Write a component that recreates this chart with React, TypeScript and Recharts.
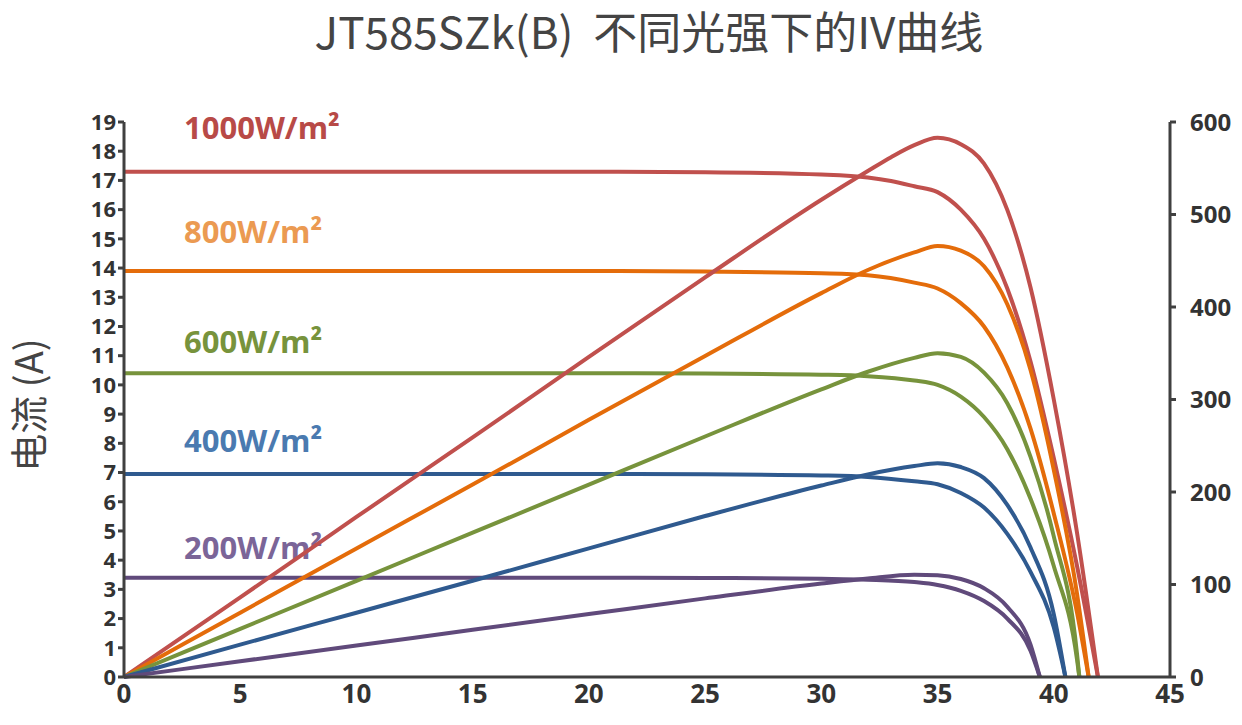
import { LineChart, Line, XAxis, YAxis, ResponsiveContainer } from "recharts";

// voltage points (V) and current (A) per irradiance
const v1000 = [0, 5, 10, 15, 20, 25, 30, 32, 33, 34, 35, 36, 37, 38, 39, 40, 41, 41.9];
const i1000 = [17.3, 17.3, 17.3, 17.3, 17.3, 17.28, 17.2, 17.1, 16.98, 16.8, 16.6, 16.0, 15.0, 13.3, 10.8, 7.5, 3.8, 0];
const p1000 = [0, 86, 173, 259, 346, 432, 516, 547, 562, 575, 583, 576, 555, 505, 421, 300, 156, 0];

const v800 = [0, 5, 10, 15, 20, 25, 30, 32, 34, 35, 36, 37, 38, 39, 40, 41, 41.5];
const i800 = [13.9, 13.9, 13.9, 13.9, 13.9, 13.88, 13.82, 13.75, 13.5, 13.3, 12.8, 12.0, 10.6, 8.5, 5.6, 2.2, 0];
const p800 = [0, 69.5, 139, 208, 278, 347, 415, 440, 459, 466, 461, 444, 403, 332, 224, 90, 0];

const v600 = [0, 5, 10, 15, 20, 25, 30, 32, 34, 35, 36, 37, 38, 39, 40, 41, 41.1];
const i600 = [10.4, 10.4, 10.4, 10.4, 10.4, 10.39, 10.35, 10.3, 10.15, 10.0, 9.6, 8.9, 7.8, 6.1, 3.8, 0.6, 0];
const p600 = [0, 52, 104, 156, 208, 260, 311, 330, 345, 350, 346, 329, 296, 238, 152, 25, 0];

const v400 = [0, 5, 10, 15, 20, 25, 30, 32, 34, 35, 36, 37, 38, 39, 40, 40.5];
const i400 = [6.95, 6.95, 6.95, 6.95, 6.95, 6.94, 6.9, 6.85, 6.7, 6.6, 6.3, 5.8, 4.9, 3.6, 1.7, 0];
const p400 = [0, 35, 69.5, 104, 139, 174, 207, 219, 228, 231, 227, 215, 186, 140, 68, 0];

const v200 = [0, 5, 10, 15, 20, 25, 30, 32, 34, 35, 36, 37, 38, 39, 39.4];
const i200 = [3.4, 3.4, 3.4, 3.4, 3.4, 3.39, 3.36, 3.33, 3.25, 3.15, 2.95, 2.6, 2.0, 0.9, 0];
const p200 = [0, 17, 34, 51, 68, 85, 101, 106.5, 110.5, 110, 106, 96, 76, 35, 0];

const xTicks = [0, 5, 10, 15, 20, 25, 30, 35, 40, 45];
const leftTicks = Array.from({ length: 20 }, (_, k) => k);
const rightTicks = [0, 100, 200, 300, 400, 500, 600];

const series = [
  { name: "1000W/m²", v: v1000, i: i1000, p: p1000, color: "#c0504d", labelColor: "#b84a47", top: 106 },
  { name: "800W/m²", v: v800, i: i800, p: p800, color: "#e46c0a", labelColor: "#eb9a52", top: 210 },
  { name: "600W/m²", v: v600, i: i600, p: p600, color: "#77933c", labelColor: "#77933c", top: 320 },
  { name: "400W/m²", v: v400, i: i400, p: p400, color: "#2f5a8f", labelColor: "#4a7ab0", top: 419 },
  { name: "200W/m²", v: v200, i: i200, p: p200, color: "#604a7b", labelColor: "#7b6598", top: 526 },
];

const tickFont = { fontFamily: "'Noto Sans', sans-serif", fontWeight: 700, fontSize: 26, fill: "#333" };

export default function App() {
  return (
    <div style={{ position: "absolute", left: 0, top: 0, width: 1242, height: 725, background: "#fff", fontFamily: "'Noto Sans CJK SC', sans-serif" }}>
      <div style={{ position: "absolute", top: 0, left: 649, transform: "translateX(-50%)", whiteSpace: "nowrap", fontSize: 44, lineHeight: "60px", color: "#444" }}>
        JT585SZk(B)&nbsp; 不同光强下的IV曲线
      </div>
      <div style={{ position: "absolute", left: 26, top: 405, transform: "translate(-50%,-50%) rotate(-90deg)", fontSize: 38, color: "#444", whiteSpace: "nowrap" }}>
        电流 (A)
      </div>
      {series.map(s => (
        <div key={s.name} style={{ position: "absolute", left: 184, top: s.top, fontSize: 31, fontWeight: 700, color: s.labelColor, fontFamily: "'Open Sans', sans-serif" }}>
          {s.name}
        </div>
      ))}
      <div style={{ width: 1242, height: 725 }}>
        <ResponsiveContainer>
          <LineChart margin={{ top: 122, right: 0, left: 0, bottom: 0 }}>
            <XAxis type="number" dataKey="v" domain={[0, 45]} ticks={xTicks} height={48} allowDuplicatedCategory={false}
              tick={tickFont} axisLine={{ stroke: "#404040", strokeWidth: 3 }} tickLine={false} interval={0} />
            <YAxis yAxisId="i" domain={[0, 19]} ticks={leftTicks} width={124} interval={0}
              tick={{ ...tickFont, fontSize: 22 }} axisLine={{ stroke: "#404040", strokeWidth: 3 }}
              tickLine={{ stroke: "#404040", strokeWidth: 3 }} tickSize={6} />
            <YAxis yAxisId="p" orientation="right" domain={[0, 600]} ticks={rightTicks} width={72} interval={0}
              tick={{ ...tickFont, fontSize: 24, dx: 12 }} axisLine={{ stroke: "#404040", strokeWidth: 3 }}
              tickLine={{ stroke: "#404040", strokeWidth: 3 }} tickSize={6} />
            {series.map(s => (
              <Line key={s.name + "i"} yAxisId="i" data={s.v.map((v, k) => ({ v, y: s.i[k] }))} dataKey="y"
                type="monotone" stroke={s.color} strokeWidth={4} dot={false} isAnimationActive={false} />
            ))}
            {series.map(s => (
              <Line key={s.name + "p"} yAxisId="p" data={s.v.map((v, k) => ({ v, y: s.p[k] }))} dataKey="y"
                type="monotone" stroke={s.color} strokeWidth={4} dot={false} isAnimationActive={false} />
            ))}
          </LineChart>
        </ResponsiveContainer>
      </div>
    </div>
  );
}
